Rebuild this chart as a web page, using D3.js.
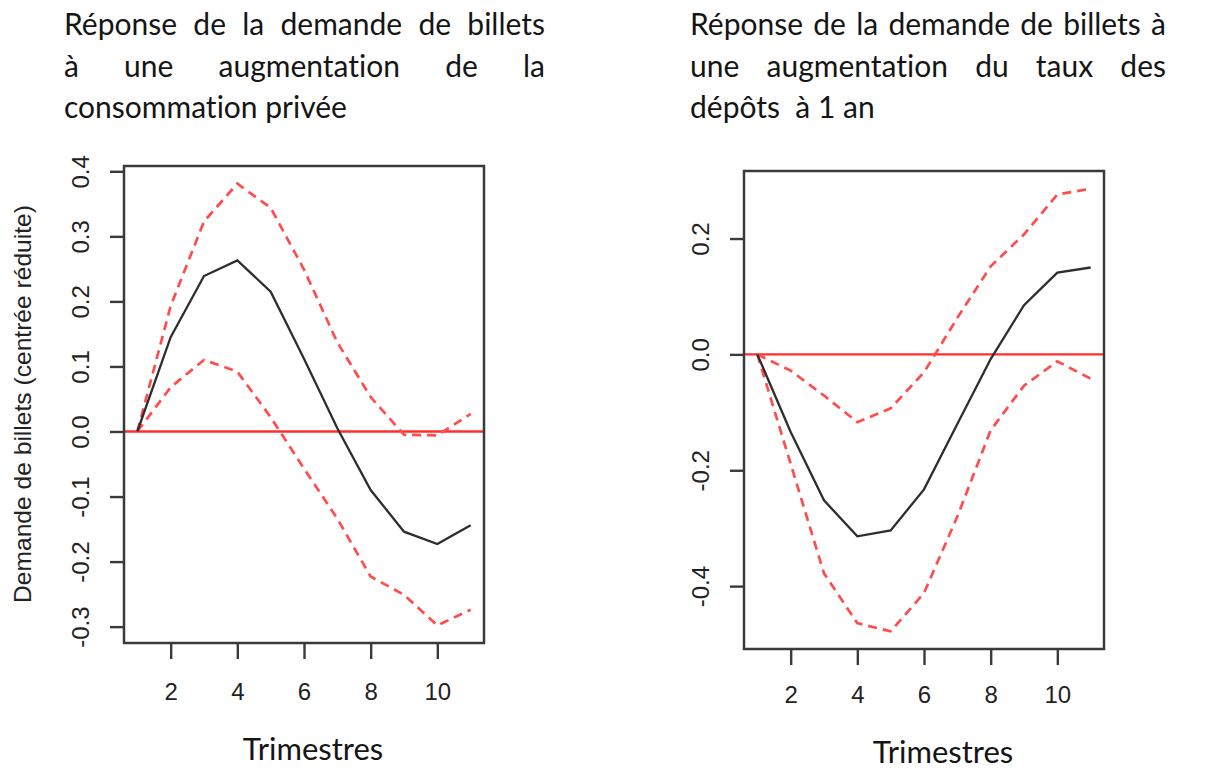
<!DOCTYPE html>
<html>
<head>
<meta charset="utf-8">
<script src="https://cdn.jsdelivr.net/npm/d3@7"></script>
<style>
  body { margin: 0; background: #fff; }
  svg text { white-space: pre; font-variant-ligatures: none; }
</style>
</head>
<body>
<svg width="1205" height="769"></svg>
<script>
// Data
var quarters = [1, 2, 3, 4, 5, 6, 7, 8, 9, 10, 11];

// left panel: shock on private consumption
var consoIRF   = [0, 0.145, 0.239, 0.263, 0.215, 0.112, 0.005, -0.090, -0.154, -0.173, -0.144];
var consoUpper = [0, 0.193, 0.323, 0.381, 0.344, 0.249, 0.137, 0.053, -0.005, -0.006, 0.027];
var consoLower = [0, 0.068, 0.110, 0.092, 0.022, -0.057, -0.134, -0.223, -0.251, -0.298, -0.274];

// right panel: shock on 1-year deposit rate
var tauxIRF   = [0, -0.134, -0.252, -0.314, -0.304, -0.233, -0.120, -0.008, 0.085, 0.141, 0.150];
var tauxUpper = [0, -0.028, -0.071, -0.117, -0.093, -0.031, 0.063, 0.152, 0.207, 0.276, 0.286];
var tauxLower = [0, -0.189, -0.378, -0.464, -0.478, -0.412, -0.280, -0.131, -0.054, -0.012, -0.042];

var xTicks = [2, 4, 6, 8, 10];
var consoYTicks = [-0.3, -0.2, -0.1, 0, 0.1, 0.2, 0.3, 0.4];
var tauxYTicks = [-0.4, -0.2, 0, 0.2];

var consoTitle = ["Réponse de la demande de billets", "à une augmentation de la", "consommation privée"];
var tauxTitle = ["Réponse de la demande de billets à", "une augmentation du taux des", "dépôts  à 1 an"];
var yTitle = "Demande de billets (centrée réduite)";
var xTitle = "Trimestres";

var svg = d3.select("svg");

// R style: pad the data range by 4% on each side
function padded(ext) {
  var d = (ext[1] - ext[0]) * 0.04;
  return [ext[0] - d, ext[1] + d];
}

function drawPanel(p) {
  var x = d3.scaleLinear()
    .domain(padded(d3.extent(quarters)))
    .range([p.left, p.right]);
  var y = d3.scaleLinear()
    .domain(padded(d3.extent(p.lower.concat(p.upper, p.irf))))
    .range([p.bottom, p.top]);

  var line = d3.line()
    .x(function(d, i) { return x(quarters[i]); })
    .y(function(d) { return y(d); });

  // zero line
  svg.append("line")
    .attr("x1", p.left).attr("x2", p.right)
    .attr("y1", y(0)).attr("y2", y(0))
    .attr("stroke", "#ff2e2e")
    .attr("stroke-width", 2.4);

  // confidence bands
  [p.upper, p.lower].forEach(function(s) {
    svg.append("path")
      .datum(s)
      .attr("d", line)
      .attr("fill", "none")
      .attr("stroke", "#ff4d4d")
      .attr("stroke-width", 2.7)
      .attr("stroke-dasharray", "9,6");
  });

  // impulse response
  svg.append("path")
    .datum(p.irf)
    .attr("d", line)
    .attr("fill", "none")
    .attr("stroke", "#2e2e2e")
    .attr("stroke-width", 2.3);

  // box
  svg.append("rect")
    .attr("x", p.left).attr("y", p.top)
    .attr("width", p.right - p.left).attr("height", p.bottom - p.top)
    .attr("fill", "none")
    .attr("stroke", "#3a3a3a")
    .attr("stroke-width", 2.5);

  // x axis
  var gx = svg.append("g")
    .attr("transform", "translate(0," + p.bottom + ")")
    .call(d3.axisBottom(x).tickValues(xTicks).tickSize(16).tickSizeOuter(0));
  gx.select(".domain").remove();
  gx.selectAll(".tick line").attr("stroke", "#3a3a3a").attr("stroke-width", 2.4);
  gx.selectAll(".tick text")
    .attr("y", p.xLabelBase - p.bottom)
    .attr("dy", null)
    .attr("fill", "#222")
    .style("font-family", "Liberation Sans, Arial, sans-serif")
    .style("font-size", "24px");

  // y axis
  var gy = svg.append("g")
    .attr("transform", "translate(" + p.left + ",0)")
    .call(d3.axisLeft(y).tickValues(p.yTicks).tickSize(14).tickSizeOuter(0)
      .tickFormat(function(d) { return d.toFixed(1); }));
  gy.select(".domain").remove();
  gy.selectAll(".tick line").attr("stroke", "#3a3a3a").attr("stroke-width", 2.4);
  gy.selectAll(".tick text")
    .attr("x", null).attr("dy", null)
    .attr("text-anchor", "middle")
    .attr("transform", "translate(" + (p.yLabelBase - p.left) + ",0) rotate(-90)")
    .attr("fill", "#222")
    .style("font-family", "Liberation Sans, Arial, sans-serif")
    .style("font-size", "24px");

  // title, justified like the source document (stretch the word gaps)
  p.title.forEach(function(t, i) {
    var txt = svg.append("text")
      .attr("x", p.titleX)
      .attr("y", 35 + i * 41.5)
      .attr("fill", "#151515")
      .style("font-family", "Lato, sans-serif")
      .style("font-size", "30px")
      .text(t);
    if (i < p.title.length - 1) {
      var gaps = t.split(" ").length - 1;
      var w = txt.node().getComputedTextLength();
      txt.style("word-spacing", ((p.titleWidth - w) / gaps) + "px");
    }
  });

  // x title
  svg.append("text")
    .attr("x", p.xTitleX)
    .attr("y", p.xTitleY)
    .attr("text-anchor", "middle")
    .attr("fill", "#151515")
    .style("font-family", "Lato, sans-serif")
    .style("font-size", "31px")
    .text(xTitle);
}

drawPanel({
  irf: consoIRF, upper: consoUpper, lower: consoLower,
  left: 124, right: 484, top: 166, bottom: 643,
  yTicks: consoYTicks, yLabelBase: 89, xLabelBase: 700,
  title: consoTitle, titleX: 64, titleWidth: 481,
  xTitleX: 313, xTitleY: 760
});

drawPanel({
  irf: tauxIRF, upper: tauxUpper, lower: tauxLower,
  left: 744, right: 1104, top: 171, bottom: 649,
  yTicks: tauxYTicks, yLabelBase: 709, xLabelBase: 703,
  title: tauxTitle, titleX: 690, titleWidth: 476,
  xTitleX: 943, xTitleY: 763
});

// y axis title of the left panel
svg.append("text")
  .attr("transform", "translate(31,404) rotate(-90)")
  .attr("text-anchor", "middle")
  .attr("textLength", 398)
  .attr("lengthAdjust", "spacingAndGlyphs")
  .attr("fill", "#222")
  .style("font-family", "Liberation Sans, Arial, sans-serif")
  .style("font-size", "24px")
  .text(yTitle);
</script>
</body>
</html>
